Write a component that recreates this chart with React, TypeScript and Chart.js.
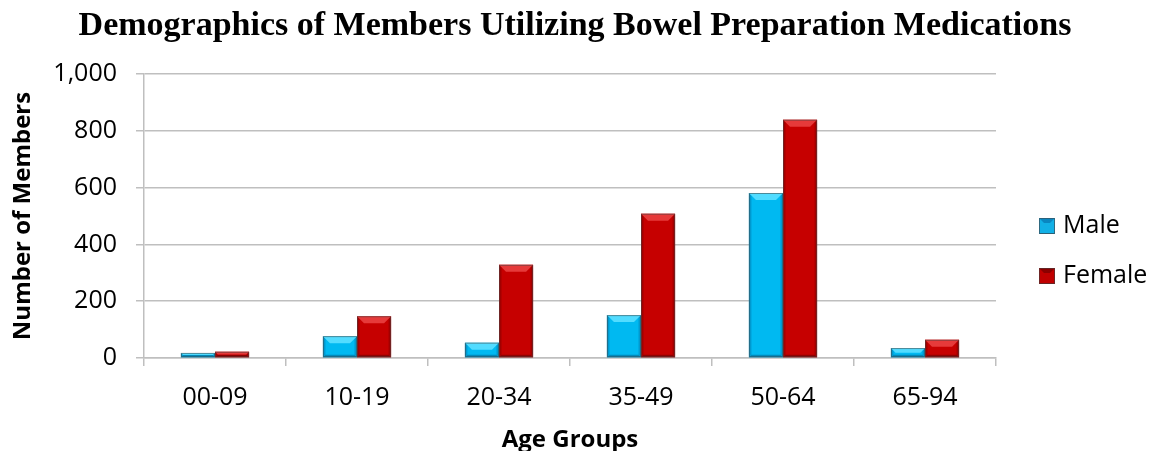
import React, { useEffect, useRef } from "react";
import { Chart, registerables } from "chart.js";

Chart.register(...registerables);

// Members using bowel preparation medications, by age group and sex
const ageGroups = ["00-09", "10-19", "20-34", "35-49", "50-64", "65-94"];
const maleMembers = [18, 77, 54, 151, 581, 35];
const femaleMembers = [22, 147, 328, 508, 839, 64];
const seriesNames = ["Male", "Female"];
const yTickValues = [0, 200, 400, 600, 800, 1000];
const chartTitle = "Demographics of Members Utilizing Bowel Preparation Medications";

const WIDTH = 1156;
const HEIGHT = 451;
const SANS = "'Open Sans', 'DejaVu Sans', sans-serif";
const SERIF = "'Liberation Serif', 'DejaVu Serif', serif";
const GRID = "#BFBFBF";

type Palette = { base: string; top: string; side: string; bottom: string };
const palettes: Palette[] = [
  { base: "#00B9F1", top: "#52DCFF", side: "#0099CF", bottom: "#0089BA" },
  { base: "#C60000", top: "#E63A3A", side: "#A20000", bottom: "#8E0000" },
];
const legendPalettes: Palette[] = [
  { base: "#12B0E6", top: "#0A86C0", side: "#1496C8", bottom: "#0E80B0" },
  { base: "#C00000", top: "#8A0000", side: "#A00000", bottom: "#900000" },
];

// Paints bevel facets on a rectangle (top facet, darker sides and bottom)
function bevel(ctx: CanvasRenderingContext2D, l: number, t: number, r: number, b: number, pal: Palette, d: number, s: number) {
  const h = b - t;
  const w = r - l;
  const dd = Math.min(d, h / 2, w / 2);
  const ss = Math.min(s, h / 2, w / 2);
  ctx.save();
  ctx.fillStyle = pal.side;
  ctx.beginPath();
  ctx.moveTo(l, t);
  ctx.lineTo(l + ss, t + ss);
  ctx.lineTo(l + ss, b - ss);
  ctx.lineTo(l, b);
  ctx.closePath();
  ctx.fill();
  ctx.beginPath();
  ctx.moveTo(r, t);
  ctx.lineTo(r - ss, t + ss);
  ctx.lineTo(r - ss, b - ss);
  ctx.lineTo(r, b);
  ctx.closePath();
  ctx.fill();
  ctx.fillStyle = pal.bottom;
  ctx.beginPath();
  ctx.moveTo(l, b);
  ctx.lineTo(l + ss, b - ss);
  ctx.lineTo(r - ss, b - ss);
  ctx.lineTo(r, b);
  ctx.closePath();
  ctx.fill();
  ctx.fillStyle = pal.top;
  ctx.beginPath();
  ctx.moveTo(l, t);
  ctx.lineTo(r, t);
  ctx.lineTo(r - dd, t + dd);
  ctx.lineTo(l + dd, t + dd);
  ctx.closePath();
  ctx.fill();
  ctx.strokeStyle = "rgba(70,70,70,0.55)";
  ctx.lineWidth = 1;
  ctx.strokeRect(l + 0.5, t + 0.5, Math.max(0, w - 1), Math.max(0, h - 1));
  ctx.restore();
}

const bevelPlugin = {
  id: "barBevel",
  afterDatasetsDraw(chart: any) {
    const ctx = chart.ctx as CanvasRenderingContext2D;
    chart.data.datasets.forEach((_ds: any, i: number) => {
      const meta = chart.getDatasetMeta(i);
      meta.data.forEach((bar: any) => {
        const { x, y, base, width } = bar.getProps(["x", "y", "base", "width"], true);
        const l = x - width / 2;
        const r = x + width / 2;
        const t = Math.min(y, base);
        const b = Math.max(y, base);
        bevel(ctx, l, t, r, b, palettes[i], 7, 2.5);
      });
    });
  },
};

// Title centred across the whole canvas, above the plot
const titlePlugin = {
  id: "wideTitle",
  afterDraw(chart: any) {
    const ctx = chart.ctx as CanvasRenderingContext2D;
    ctx.save();
    ctx.font = `bold 34px ${SERIF}`;
    ctx.fillStyle = "#000";
    ctx.textAlign = "center";
    ctx.textBaseline = "alphabetic";
    ctx.fillText(chartTitle, 575, 35);
    ctx.restore();
  },
};

// Legend at the right, vertically stacked
const sideLegendPlugin = {
  id: "sideLegend",
  afterDraw(chart: any) {
    const ctx = chart.ctx as CanvasRenderingContext2D;
    const area = chart.chartArea;
    const boxX = area.right + 43;
    const firstY = area.top + 152;
    const step = 50;
    ctx.save();
    ctx.font = `25px ${SANS}`;
    ctx.textBaseline = "middle";
    ctx.textAlign = "left";
    chart.data.datasets.forEach((ds: any, i: number) => {
      const cy = firstY + i * step;
      const pal = legendPalettes[i];
      ctx.fillStyle = pal.base;
      ctx.fillRect(boxX, cy - 8, 16, 16);
      bevel(ctx, boxX, cy - 8, boxX + 16, cy + 8, pal, 5, 1);
      ctx.fillStyle = "#000";
      ctx.fillText(ds.label, boxX + 24, cy);
    });
    ctx.restore();
  },
};

export default function App() {
  const canvasRef = useRef<HTMLCanvasElement | null>(null);

  useEffect(() => {
    document.body.style.margin = "0";
    const canvas = canvasRef.current;
    if (!canvas) return;
    const chart = new Chart(canvas, {
      type: "bar",
      data: {
        labels: ageGroups,
        datasets: [
          {
            label: seriesNames[0],
            data: maleMembers,
            backgroundColor: palettes[0].base,
            categoryPercentage: 0.48,
            barPercentage: 1,
          },
          {
            label: seriesNames[1],
            data: femaleMembers,
            backgroundColor: palettes[1].base,
            categoryPercentage: 0.48,
            barPercentage: 1,
          },
        ],
      },
      options: {
        responsive: false,
        animation: false,
        devicePixelRatio: 1,
        layout: { padding: { left: 0, right: WIDTH - 996, top: 74, bottom: 0 } },
        plugins: {
          legend: { display: false },
          tooltip: { enabled: false },
          title: { display: false },
        },
        scales: {
          x: {
            grid: {
              display: true,
              drawOnChartArea: false,
              drawTicks: true,
              tickLength: 8,
              color: GRID,
              lineWidth: 1.5,
            },
            border: { display: true, color: GRID, width: 1.5 },
            ticks: {
              color: "#000",
              font: { family: SANS, size: 25 },
              padding: 17,
              maxRotation: 0,
            },
            title: {
              display: true,
              text: "Age Groups",
              color: "#000",
              font: { family: SANS, size: 24, weight: "bold", lineHeight: 1.0 },
              padding: { top: 0, bottom: -1 },
            },
            afterFit: (scale: any) => {
              scale.height = 93;
            },
          },
          y: {
            min: 0,
            max: 1000,
            afterBuildTicks: (scale: any) => {
              scale.ticks = yTickValues.map((v) => ({ value: v }));
            },
            grid: {
              color: GRID,
              lineWidth: 1.5,
              tickLength: 8,
            },
            border: { display: true, color: GRID, width: 1.5 },
            ticks: {
              color: "#000",
              font: { family: SANS, size: 25 },
              padding: 19,
              callback: (v: any) => Number(v).toLocaleString("en-US"),
            },
            title: {
              display: true,
              text: "Number of Members",
              color: "#000",
              font: { family: SANS, size: 24, weight: "bold", lineHeight: 1.2 },
              padding: { top: 9, bottom: 0 },
            },
            afterFit: (scale: any) => {
              scale.width = 144;
            },
          },
        },
      },
      plugins: [bevelPlugin, titlePlugin, sideLegendPlugin],
    });
    return () => chart.destroy();
  }, []);

  return (
    <div style={{ position: "absolute", left: 0, top: 0, width: WIDTH, height: HEIGHT, background: "#fff" }}>
      <canvas ref={canvasRef} width={WIDTH} height={HEIGHT} />
    </div>
  );
}
